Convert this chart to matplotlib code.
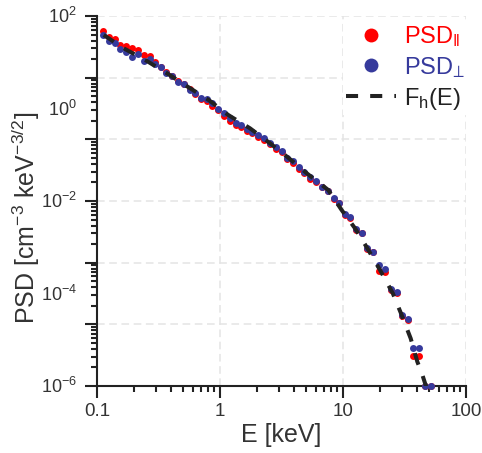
import matplotlib
matplotlib.use('Agg')
import matplotlib.pyplot as plt
import numpy as np
from matplotlib.ticker import FixedLocator, NullFormatter, LogLocator

plt.rcParams['font.family'] = ['Liberation Sans', 'DejaVu Sans']
plt.rcParams['mathtext.fontset'] = 'custom'
plt.rcParams['mathtext.rm'] = 'Liberation Sans'
plt.rcParams['mathtext.it'] = 'Liberation Sans:italic'
plt.rcParams['mathtext.bf'] = 'Liberation Sans:bold'

# datos
energia = [0.112, 0.125, 0.140, 0.155, 0.173, 0.191, 0.214, 0.240, 0.268, 0.296,
           0.331, 0.366, 0.410, 0.458, 0.507, 0.567, 0.626, 0.701, 0.784, 0.866,
           0.969, 1.084, 1.199, 1.341, 1.482, 1.658, 1.830, 2.048, 2.292, 2.564,
           2.837, 3.175, 3.505, 3.922, 4.388, 4.846, 5.422, 5.998, 6.711, 7.509,
           8.403, 9.28, 10.32, 11.40, 12.76, 14.27, 15.76, 17.63, 19.73, 21.83,
           24.42, 27.33, 30.18, 33.77, 37.29, 41.73, 46.69, 51.64]

psd_par = [48.1, 35.7, 31.3, 23.6, 22.5, 20.0, 18.4, 14.1, 13.6, 10.1,
           8.01, 6.15, 5.04, 3.87, 3.39, 2.60, 2.06, 1.58, 1.43, 1.13,
           0.928, 0.689, 0.545, 0.446, 0.404, 0.321, 0.291, 0.246, 0.208, 0.171,
           0.135, 0.116, 0.0797, 0.0673, 0.0499, 0.0397, 0.0304, 0.0258, 0.0198, 0.0162,
           0.0110, 0.00892, 0.00498, 0.00423, 0.00236, 0.00203, 0.000930, 0.000789, 0.000311, 0.000296,
           0.000122, 0.000105, 3.26e-5, 2.74e-5, 4.45e-6, 4.45e-6, 1.0e-6, 1.0e-6]

psd_perp = [38.8, 29.2, 25.7, 19.1, 16.9, 13.2, 14.9, 10.8, 11.6, 9.17,
            7.78, 5.94, 5.04, 3.74, 3.39, 2.51, 2.20, 1.69, 1.58, 1.29,
            0.990, 0.787, 0.614, 0.493, 0.440, 0.355, 0.315, 0.267, 0.234, 0.182,
            0.145, 0.122, 0.0863, 0.0743, 0.0535, 0.0430, 0.0325, 0.0275, 0.0198, 0.0167,
            0.0114, 0.00919, 0.00524, 0.00458, 0.00244, 0.00206, 0.000949, 0.000801, 0.000413, 0.000344,
            0.000125, 0.000106, 3.38e-5, 2.81e-5, 6.53e-6, 6.53e-6, 1.0e-6, 1.0e-6]

energia_fit = [0.1134, 0.165, 0.252, 0.371, 0.546, 0.809, 1.168, 1.754, 2.55, 3.59,
               5.16, 7.59, 9.75, 12.52, 15.6, 20.0, 25.4, 29.6, 35.5, 40.2, 43.6, 50.9]
psd_fit = [38.8, 20.0, 10.8, 5.77, 2.96, 1.53, 0.723, 0.373, 0.177, 0.0863,
           0.0384, 0.0173, 0.00638, 0.00257, 0.000998, 0.000322, 0.000101, 3.73e-5, 1.07e-5, 3.35e-6,
           1.94e-6, 5.4e-7]

ticks_x = [0.1, 1, 10, 100]
etiquetas_x = ['0.1', '1', '10', '100']
pos_etiquetas_y = [1e2, 1e0, 1e-2, 1e-4, 1e-6]
etiquetas_y = [r'10$^{2}$', r'10$^{0}$', r'10$^{-2}$', r'10$^{-4}$', r'10$^{-6}$']

rojo = '#ff0000'
azul = '#363a9c'
negro = '#222222'
gris = '#333333'

fig = plt.figure(figsize=(4.82, 4.53), dpi=100)
ax = fig.add_axes([97 / 482, 1 - 386 / 453, (466 - 97) / 482, (386 - 16) / 453])

ax.plot(energia, psd_par, 'o', color=rojo, markersize=5, markeredgewidth=0,
        clip_on=False, zorder=3, label=r'PSD$_{\Vert}$')
ax.plot(energia, psd_perp, 'o', color=azul, markersize=5, markeredgewidth=0,
        clip_on=False, zorder=4, label='PSD$_{⊥}$')
ax.plot(energia_fit, psd_fit, color=negro, linewidth=2.9, linestyle=(0, (3, 3)),
        dash_capstyle='butt', zorder=5, label=r'F$_{\mathregular{h}}$(E)')

ax.set_xscale('log')
ax.set_yscale('log')
ax.set_xlim(0.1, 100)
ax.set_ylim(1e-6, 1e2)

# eje x normal en decadas
ax.set_xticks(ticks_x)
ax.set_xticklabels(etiquetas_x)
ax.xaxis.set_minor_locator(LogLocator(base=10, subs=np.arange(2, 10)))
ax.xaxis.set_minor_formatter(NullFormatter())

# eje y: marcas cada 4/3 de decada (como el original), etiquetas cada 2 decadas
log_mayores = [2 - 4 * k / 3 for k in range(7)]
mayores_y = [10 ** v for v in log_mayores]
menores_y = []
for top in log_mayores[:-1]:
    for n in range(2, 10):
        menores_y.append(10 ** (top - (1 - np.log10(n)) * 4 / 3))
ax.yaxis.set_major_locator(FixedLocator(mayores_y))
ax.yaxis.set_major_formatter(NullFormatter())
ax.yaxis.set_minor_locator(FixedLocator(menores_y))
ax.yaxis.set_minor_formatter(NullFormatter())

for v, lab in zip(pos_etiquetas_y, etiquetas_y):
    ax.annotate(lab, xy=(0, v), xycoords=('axes fraction', 'data'), xytext=(-20, -1),
                textcoords='offset pixels', ha='right', va='center', fontsize=13,
                color=gris, annotation_clip=False)

ax.spines['top'].set_visible(False)
ax.spines['right'].set_visible(False)
for s in ['left', 'bottom']:
    ax.spines[s].set_linewidth(1.5)
    ax.spines[s].set_color(negro)

ax.tick_params(which='major', direction='out', length=8.5, width=1.5, color=negro,
               labelsize=13.5, labelcolor=gris, pad=4)
ax.tick_params(which='minor', direction='out', length=4, width=1.5, color=negro)

ax.grid(which='major', color='#e4e4e4', linestyle=(0, (5, 3)), linewidth=1.1)
ax.set_axisbelow(True)

ax.set_xlabel('E [keV]', fontsize=18, color=gris, labelpad=2)
ax.set_ylabel(r'PSD [cm$^{-3}$ keV$^{-3/2}$]', fontsize=18, color=gris)
ax.yaxis.set_label_coords(-0.15, 0.455)

ax.legend(loc='upper right', bbox_to_anchor=(1.04, 1.02), fontsize=17, markerscale=2,
          handlelength=2.1, handletextpad=0.35, labelspacing=0.25, borderpad=0.15,
          frameon=True, framealpha=1, facecolor='white', edgecolor='none',
          fancybox=False, labelcolor=[rojo, azul, negro])

fig.savefig('out.png', dpi=100)
